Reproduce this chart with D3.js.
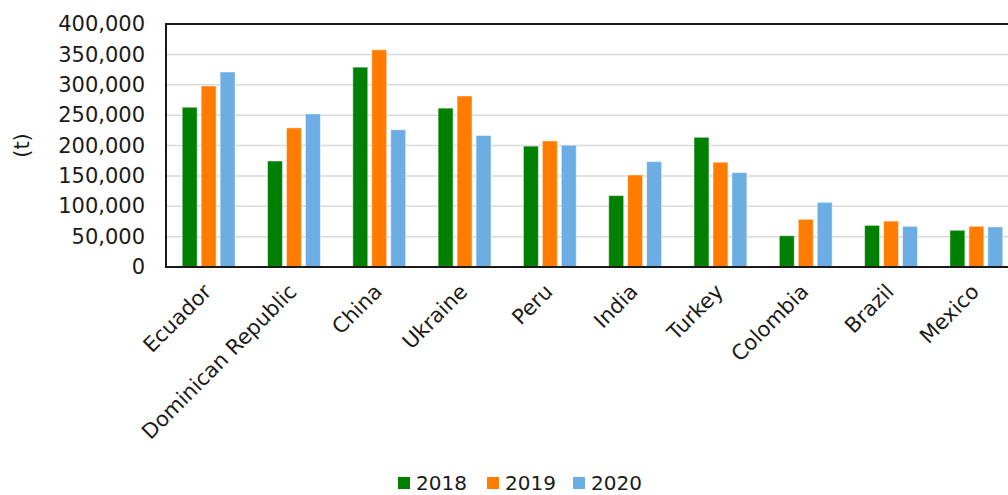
<!DOCTYPE html>
<html>
<head>
<meta charset="utf-8">
<script src="https://cdn.jsdelivr.net/npm/d3@7"></script>
<style>
  html, body { margin: 0; padding: 0; background: #fff; overflow: hidden; }
  svg { display: block; font-family: "DejaVu Sans", Verdana, sans-serif; }
</style>
</head>
<body>
<div id="chart"></div>
<script>
// data (tonnes)
const countries = ["Ecuador", "Dominican Republic", "China", "Ukraine", "Peru", "India", "Turkey", "Colombia", "Brazil", "Mexico"];
const years = ["2018", "2019", "2020"];
const values2018 = [263000, 174500, 329000, 261500, 199000, 117500, 213500, 51500, 68500, 60500];
const values2019 = [298000, 229000, 357500, 281500, 207500, 151500, 172500, 78500, 75500, 67000];
const values2020 = [321000, 252000, 226000, 216500, 200500, 173500, 155500, 106500, 67000, 66000];
const yTicks = [0, 50000, 100000, 150000, 200000, 250000, 300000, 350000, 400000];
const colors = ["#008000", "#ff7c00", "#6caee3"];

function drawChart() {
  const width = 1008, height = 495;
  const margin = { left: 166, top: 24, bottom: 228 };
  const plotRight = 1019; // plot area runs past the right edge of the window

  const svg = d3.select("#chart").append("svg")
    .attr("width", width)
    .attr("height", height);

  const series = [values2018, values2019, values2020];
  const rows = countries.map((c, i) => ({ country: c, vals: series.map(s => s[i]) }));

  const x0 = d3.scaleBand()
    .domain(countries)
    .range([margin.left, plotRight])
    .paddingInner(0.38)
    .paddingOuter(0.19);

  const x1 = d3.scaleBand()
    .domain(years)
    .range([0, x0.bandwidth()])
    .paddingInner(0.21);

  const y = d3.scaleLinear()
    .domain([0, 400000])
    .range([height - margin.bottom, margin.top]);

  // gridlines
  svg.append("g")
    .selectAll("line")
    .data(yTicks.slice(1, -1))
    .enter().append("line")
    .attr("x1", margin.left)
    .attr("x2", plotRight)
    .attr("y1", d => y(d))
    .attr("y2", d => y(d))
    .attr("stroke", "#d9d9d9")
    .attr("stroke-width", 1.5);

  // bars
  const group = svg.append("g")
    .selectAll("g")
    .data(rows)
    .enter().append("g")
    .attr("transform", d => `translate(${x0(d.country)},0)`);

  group.selectAll("rect")
    .data(d => d.vals.map((v, k) => ({ year: years[k], value: v, k })))
    .enter().append("rect")
    .attr("x", d => x1(d.year))
    .attr("y", d => y(d.value))
    .attr("width", x1.bandwidth())
    .attr("height", d => y(0) - y(d.value))
    .attr("fill", d => colors[d.k])
    .attr("stroke", "#fff")
    .attr("stroke-opacity", 0.5)
    .attr("stroke-width", 1);

  // frame: left, top, bottom
  const frame = svg.append("g").attr("stroke", "#1a1a1a").attr("stroke-width", 2).attr("fill", "none");
  frame.append("path")
    .attr("d", `M${plotRight},${y(400000)}H${margin.left}V${y(0)}H${plotRight}`);

  // y axis labels
  const yAxis = d3.axisLeft(y)
    .tickValues(yTicks)
    .tickSize(0)
    .tickPadding(21)
    .tickFormat(d3.format(","));
  svg.append("g")
    .attr("transform", `translate(${margin.left},0)`)
    .call(yAxis)
    .call(g => g.select(".domain").remove())
    .selectAll("text")
    .attr("font-size", "21px")
    .attr("font-family", "DejaVu Sans, Verdana, sans-serif")
    .attr("fill", "#1a1a1a");

  // x axis labels
  svg.append("g")
    .selectAll("text")
    .data(countries)
    .enter().append("text")
    .attr("transform", d => `translate(${x0(d) + x0.bandwidth() / 2 + 4},${y(0) + 26}) rotate(-45)`)
    .attr("text-anchor", "end")
    .attr("font-size", "21px")
    .attr("fill", "#1a1a1a")
    .text(d => d);

  // y title
  svg.append("text")
    .attr("transform", `translate(29,${(y(0) + y(400000)) / 2}) rotate(-90)`)
    .attr("text-anchor", "middle")
    .attr("font-size", "21px")
    .attr("fill", "#1a1a1a")
    .text("(t)");

  // legend
  const legendX = [398, 487, 573];
  const legend = svg.append("g")
    .selectAll("g")
    .data(years)
    .enter().append("g")
    .attr("transform", (d, i) => `translate(${legendX[i]},477)`);
  legend.append("rect")
    .attr("width", 12)
    .attr("height", 12)
    .attr("fill", (d, i) => colors[i]);
  legend.append("text")
    .attr("x", 18)
    .attr("y", 13)
    .attr("font-size", "20px")
    .attr("fill", "#1a1a1a")
    .text(d => d);
}

document.addEventListener("DOMContentLoaded", drawChart);
</script>
</body>
</html>
